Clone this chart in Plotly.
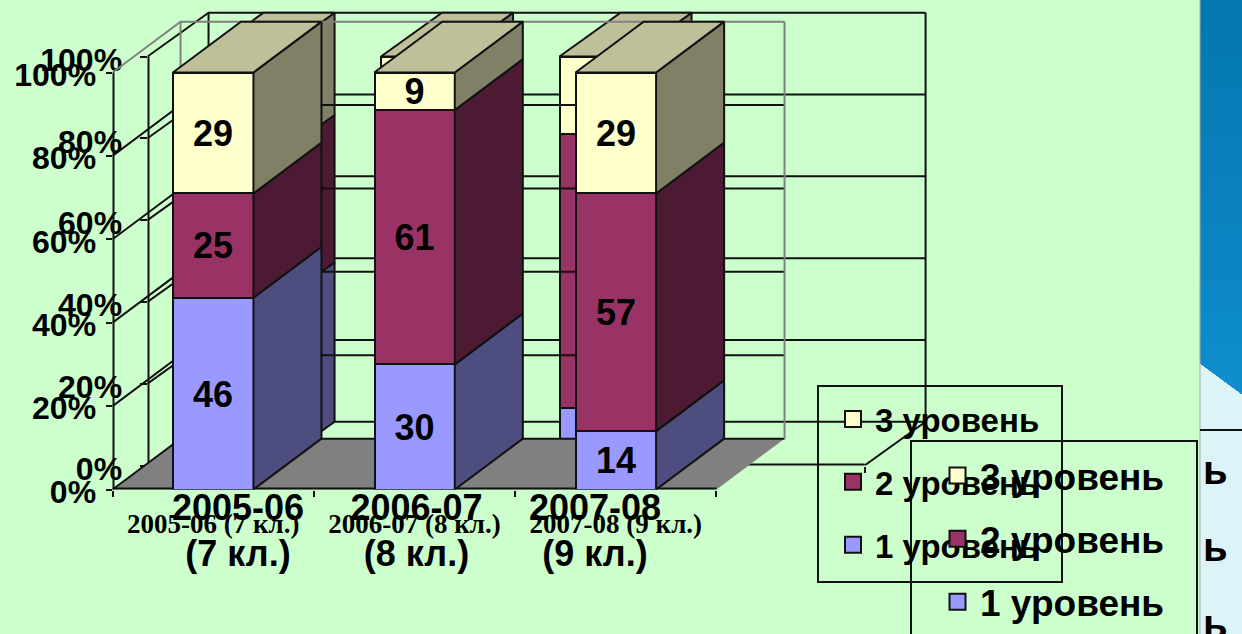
import plotly.graph_objects as go

W, H = 1242, 634

# ---- data ----
levels = ["1 уровень", "2 уровень", "3 уровень"]
front_categories = ["2005-06 (7 кл.)", "2006-07 (8 кл.)", "2007-08 (9 кл.)"]
back_categories = ["2005-06<br>(7 кл.)", "2006-07<br>(8 кл.)", "2007-08<br>(9 кл.)"]
front_level1 = [46, 30, 14]
front_level2 = [25, 61, 57]
front_level3 = [29, 9, 29]
back_level1 = [39, 30, 14]
back_level2 = [36, 61, 67]
back_level3 = [25, 9, 19]
value_ticks = [0, 20, 40, 60, 80, 100]
value_tick_labels = ["0%", "20%", "40%", "60%", "80%", "100%"]
side_note = ["ь", "ь", "ь"]

# ---- style ----
face_colors = ["#9999FF", "#993366", "#FFFFCC"]
side_colors = ["#4D4D80", "#4D1A33", "#808066"]
top_color = "#BFBF99"
GREEN = "#CCFFCC"
INK = "#111111"
SANS = "Liberation Sans"
SERIF = "Liberation Serif"

positions = [0, 1, 2]
front = [front_level1, front_level2, front_level3]
back = [back_level1, back_level2, back_level3]


def fx(p):
    return p / W


def fy(p):
    return 1 - p / H


def add_walls(fig, ax, x0, x1, dx, dy, grid_color, box_color, floor_color, lw):
    """Walls of the 3D box, in the units of the axes (ax = ('x','y'))."""
    xa, ya = ax
    common = dict(xaxis=xa, yaxis=ya, showlegend=False, hoverinfo="skip", mode="lines")
    if floor_color:
        fig.add_trace(go.Scatter(x=[x0, x0 + dx, x1 + dx, x1, x0], y=[0, dy, dy, 0, 0], fill="toself",
                                 fillcolor=floor_color, line=dict(width=0), **common))
    gx, gy, tx, ty = [], [], [], []
    for v in value_ticks:
        is_box = v == value_ticks[-1] and box_color != grid_color
        px_, py_ = (tx, ty) if is_box else (gx, gy)
        px_ += [x0, x0 + dx, x1 + dx, None]
        py_ += [v, v + dy, v + dy, None]
    bx = [x0 + dx, x0 + dx, None, x1 + dx, x1 + dx, None]
    by = [dy, 100 + dy, None, dy, 100 + dy, None]
    if not floor_color:
        bx += [x1 + dx, x1, None]
        by += [dy, 0, None]
    fig.add_trace(go.Scatter(x=gx, y=gy, line=dict(color=grid_color, width=lw), **common))
    fig.add_trace(go.Scatter(x=tx + bx, y=ty + by, line=dict(color=box_color, width=lw), **common))
    # axis lines: half of the width is clipped at the edge of the plot area
    fig.add_trace(go.Scatter(x=[x0, x0, None, x0, x1], y=[0, 100, None, 0, 0],
                             line=dict(color=INK, width=2 * lw), **common))


def add_bars(fig, ax, series, width, dx, dy, labels):
    xa, ya = ax
    base = [0, 0, 0]
    edge = dict(color=INK, width=2)
    common = dict(xaxis=xa, yaxis=ya, showlegend=False, hoverinfo="skip")
    for s, vals in enumerate(series):
        fig.add_trace(go.Bar(
            x=positions, y=vals, width=width, name=levels[s],
            marker=dict(color=face_colors[s], line=edge),
            text=vals if labels else None,
            textposition="inside" if labels else "none", insidetextanchor="middle", textangle=0,
            constraintext="none",
            textfont=dict(family=SANS, size=36, color="black", weight="bold"),
            cliponaxis=False, **common))
        sx, sy = [], []
        for i, v in enumerate(vals):
            r = positions[i] + width / 2
            b, t = base[i], base[i] + v
            sx += [r, r + dx, r + dx, r, r, None]
            sy += [b, b + dy, t + dy, t, b, None]
            base[i] = t
        fig.add_trace(go.Scatter(x=sx, y=sy, mode="lines", fill="toself", fillcolor=side_colors[s],
                                 line=edge, **common))
    tx, ty = [], []
    for i in positions:
        l, r = i - width / 2, i + width / 2
        t = base[i]
        tx += [l, l + dx, r + dx, r, l, None]
        ty += [t, t + dy, t + dy, t, t, None]
    fig.add_trace(go.Scatter(x=tx, y=ty, mode="lines", fill="toself", fillcolor=top_color,
                             line=edge, **common))


# ---- axis geometry (plot areas hold the whole 3D box) ----
B_X0, B_X1 = -0.507, 3.51
F_X0, F_X1 = -0.5, 2.5
B_DX, B_DY = 0.342, 10.7
F_DX, F_DY = 0.338, 12.2
B_SX, B_SY = 178.5, 4.09   # pixels per unit
F_SX, F_SY = 201.33, 4.17
B_PX = (147.5, 929, 465.5, 9)  # left, right, bottom, top
F_PX = (112.5, 788, 489.5, 18)
B_DOM_X, B_DOM_Y = [fx(B_PX[0]), fx(B_PX[1])], [fy(B_PX[2]), fy(B_PX[3])]
F_DOM_X, F_DOM_Y = [fx(F_PX[0]), fx(F_PX[1])], [fy(F_PX[2]), fy(F_PX[3])]
B_RX = [B_X0, B_X0 + (B_PX[1] - B_PX[0]) / B_SX]
B_RY = [0, (B_PX[2] - B_PX[3]) / B_SY]
F_RX = [F_X0, F_X0 + (F_PX[1] - F_PX[0]) / F_SX]
F_RY = [0, (F_PX[2] - F_PX[3]) / F_SY]

fig = go.Figure()
# back chart: walls (x,y) then bars (x2,y2); front chart: walls (x3,y3) then bars (x4,y4)
add_walls(fig, ("x", "y"), B_X0, B_X1, B_DX, B_DY, INK, INK, None, 2)
add_bars(fig, ("x2", "y2"), back, 0.398, B_DX, B_DY, False)
add_walls(fig, ("x3", "y3"), F_X0, F_X1, F_DX, F_DY, INK, "#808080", "#808080", 2)
add_bars(fig, ("x4", "y4"), front, 0.40, F_DX, F_DY, True)

# legend entries, top level first
for legend_name in ["legend", "legend2"]:
    for s in [2, 1, 0]:
        fig.add_trace(go.Scatter(
            x=[None], y=[None], mode="markers", name=levels[s], legend=legend_name,
            legendgroup=legend_name + levels[s],
            marker=dict(symbol="square", size=16, color=face_colors[s], line=dict(color=INK, width=2))))

blank = dict(visible=False, fixedrange=True)
n = (B_X1 - B_X0) / 3
fig.update_layout(
    width=W, height=H, margin=dict(l=0, r=0, t=0, b=0, pad=0, autoexpand=False), autosize=False,
    paper_bgcolor=GREEN, plot_bgcolor="rgba(0,0,0,0)", barmode="stack", bargap=0,
    font=dict(family=SANS, color="black"),
    xaxis=dict(domain=B_DOM_X, range=B_RX, anchor="y", showgrid=False, zeroline=False, showline=False,
               tickmode="array", tickvals=positions, ticktext=back_categories, ticks="",
               ticklabelstandoff=17, tickfont=dict(family=SANS, size=36, weight="bold"),
               minor=dict(tickmode="array", tickvals=[B_X0, B_X0 + n, B_X0 + 2 * n, B_X1], ticks="outside",
                          ticklen=6, tickwidth=2, tickcolor=INK, showgrid=False)),
    yaxis=dict(domain=B_DOM_Y, range=B_RY, anchor="x", showgrid=False, zeroline=False, showline=False,
               tickmode="array", tickvals=value_ticks, ticktext=value_tick_labels, ticks="outside",
               ticklen=7, tickwidth=2, tickcolor=INK, ticklabelstandoff=11, ticklabelshift=3,
               tickfont=dict(family=SANS, size=32, weight="bold")),
    xaxis2=dict(domain=B_DOM_X, range=B_RX, anchor="y2", **blank),
    yaxis2=dict(domain=B_DOM_Y, range=B_RY, anchor="x2", **blank),
    xaxis3=dict(domain=F_DOM_X, range=F_RX, anchor="y3", showgrid=False, zeroline=False, showline=False,
                tickmode="array", tickvals=positions, ticktext=front_categories, ticks="",
                ticklabelstandoff=15, tickfont=dict(family=SERIF, size=27, weight="bold"),
                minor=dict(tickmode="array", tickvals=[-0.5, 0.5, 1.5, 2.5], ticks="outside",
                           ticklen=6, tickwidth=2, tickcolor=INK, showgrid=False)),
    yaxis3=dict(domain=F_DOM_Y, range=F_RY, anchor="x3", showgrid=False, zeroline=False, showline=False,
                tickmode="array", tickvals=value_ticks, ticktext=value_tick_labels, ticks="outside",
                ticklen=6, tickwidth=2, tickcolor=INK, ticklabelstandoff=3, ticklabelshift=2,
                tickfont=dict(family=SANS, size=32, weight="bold")),
    xaxis4=dict(domain=F_DOM_X, range=F_RX, anchor="y4", **blank),
    yaxis4=dict(domain=F_DOM_Y, range=F_RY, anchor="x4", **blank),
    legend=dict(x=fx(831), y=fy(391), xanchor="left", yanchor="top", bgcolor="rgba(0,0,0,0)",
                borderwidth=0, tracegroupgap=17, itemwidth=34,
                font=dict(family=SANS, size=33, weight="bold", color="black")),
    legend2=dict(x=fx(935), y=fy(445), xanchor="left", yanchor="top", bgcolor="rgba(0,0,0,0)",
                 borderwidth=0, tracegroupgap=12, itemwidth=35,
                 font=dict(family=SANS, size=37, weight="bold", color="black")),
)

# ---- page furniture ----
shapes = [dict(type="rect", xref="paper", yref="paper", x0=fx(1200), x1=1, y0=0, y1=1,
               fillcolor="#DCF4F8", line=dict(width=0), layer="below")]
bands = 14
for i in range(bands):
    t = i / bands
    y_a = 394 * t
    c = (6 + int(10 * t), 120 + int(23 * t), 176 + int(31 * t))
    if y_a < 363:
        pts = [(1200, y_a), (1242, y_a), (1242, 394), (1200, 363)]
    else:
        pts = [(1200 + 42 * (y_a - 363) / 31, y_a), (1242, y_a), (1242, 394)]
    path = "M" + " L".join(f"{fx(a):.5f},{fy(b):.5f}" for a, b in pts) + " Z"
    shapes.append(dict(type="path", xref="paper", yref="paper", path=path,
                       fillcolor=f"rgb{c}", line=dict(width=0), layer="below"))
shapes.append(dict(type="line", xref="paper", yref="paper", x0=fx(1200), x1=fx(1200), y0=0, y1=1,
                   line=dict(color="#AAAAAA", width=1), layer="below"))
shapes.append(dict(type="line", xref="paper", yref="paper", x0=fx(1200), x1=1, y0=fy(430), y1=fy(430),
                   line=dict(color=INK, width=2), layer="below"))
# legend frames
shapes.append(dict(type="rect", xref="paper", yref="paper", x0=fx(818), x1=fx(1062), y0=fy(582), y1=fy(386),
                   line=dict(color=INK, width=2), fillcolor="rgba(0,0,0,0)", layer="above"))
shapes.append(dict(type="rect", xref="paper", yref="paper", x0=fx(911), x1=fx(1197), y0=fy(650), y1=fy(441),
                   line=dict(color=INK, width=2), fillcolor="rgba(0,0,0,0)", layer="above"))
fig.update_layout(shapes=shapes)

for txt, yp in zip(side_note, [483, 560, 637]):
    fig.add_annotation(text=txt, xref="paper", yref="paper", x=fx(1201), y=fy(yp), xanchor="left",
                       yanchor="bottom", yshift=-11, showarrow=False,
                       font=dict(family=SANS, size=40, weight="bold", color="black"))

fig.write_html("out.html", config={"displayModeBar": False},
               post_script="document.body.style.margin='0';document.body.style.overflow='hidden';")
